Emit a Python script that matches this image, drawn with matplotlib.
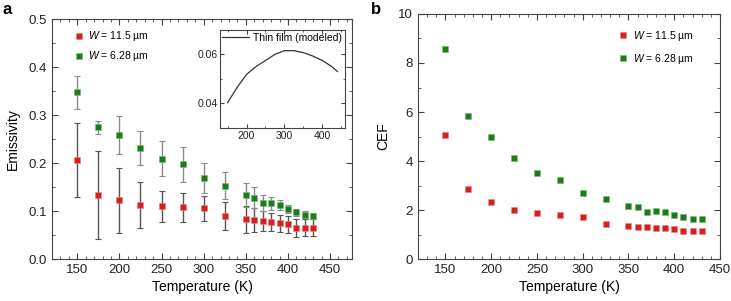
import numpy as np
import matplotlib
matplotlib.use('Agg')
import matplotlib.pyplot as plt
from matplotlib.ticker import MultipleLocator

plt.rcParams['font.family'] = ['Liberation Sans', 'DejaVu Sans']
plt.rcParams['mathtext.fontset'] = 'custom'
plt.rcParams['mathtext.rm'] = 'Liberation Sans'
plt.rcParams['mathtext.it'] = 'Liberation Sans:italic'

# ── data ────────────────────────────────────────────────────────────────────
temps = [150, 175, 200, 225, 250, 275, 300, 325, 350, 360, 370, 380, 390, 400, 410, 420, 430]

emis_red = [0.206, 0.134, 0.122, 0.113, 0.110, 0.108, 0.106, 0.090, 0.083, 0.081,
            0.079, 0.077, 0.074, 0.072, 0.065, 0.065, 0.065]
err_red = [0.077, 0.092, 0.067, 0.048, 0.032, 0.030, 0.026, 0.029, 0.028, 0.025,
           0.020, 0.018, 0.018, 0.017, 0.019, 0.018, 0.018]
emis_green = [0.347, 0.274, 0.258, 0.231, 0.209, 0.197, 0.168, 0.153, 0.133, 0.128,
              0.116, 0.116, 0.112, 0.104, 0.097, 0.092, 0.090]
err_green = [0.034, 0.014, 0.039, 0.035, 0.037, 0.037, 0.031, 0.029, 0.025, 0.021,
             0.017, 0.013, 0.010, 0.009, 0.007, 0.007, 0.006]

cef_red = [5.07, 2.86, 2.33, 2.01, 1.88, 1.78, 1.73, 1.44, 1.35, 1.32,
           1.31, 1.28, 1.25, 1.24, 1.14, 1.16, 1.16]
cef_green = [8.58, 5.84, 4.97, 4.12, 3.52, 3.22, 2.71, 2.45, 2.18, 2.11,
             1.93, 1.94, 1.90, 1.80, 1.70, 1.65, 1.62]

film_temps = [150, 175, 200, 225, 250, 275, 300, 325, 350, 375, 400, 425, 440]
film_emis = [0.0403, 0.0465, 0.0518, 0.0550, 0.0575, 0.0600, 0.0615, 0.0615,
             0.0607, 0.0593, 0.0575, 0.0550, 0.0530]

label_red = r'$W$ = 11.5 µm'
label_green = r'$W$ = 6.28 µm'

RED = '#d81e1e'
GREEN = '#1d7a1d'
FRAME = '#444444'


def style_axes(ax, xmajor, xminor, ymajor, yminor, fs):
    ax.xaxis.set_major_locator(MultipleLocator(xmajor))
    ax.xaxis.set_minor_locator(MultipleLocator(xminor))
    ax.yaxis.set_major_locator(MultipleLocator(ymajor))
    ax.yaxis.set_minor_locator(MultipleLocator(yminor))
    ax.tick_params(which='both', direction='in', top=True, right=True,
                   colors=FRAME, labelcolor='#222222', labelsize=fs)
    ax.tick_params(which='major', length=4, width=0.8)
    ax.tick_params(which='minor', length=2, width=0.6)
    for sp in ax.spines.values():
        sp.set_color(FRAME)
        sp.set_linewidth(0.8)


fig = plt.figure(figsize=(7.31, 3.01), dpi=100)

# ── panel a ─────────────────────────────────────────────────────────────────
ax1 = fig.add_axes([0.0711, 0.1395, 0.4104, 0.7973])
ax1.errorbar(temps, emis_red, yerr=err_red, fmt='none', ecolor='#555555',
             elinewidth=1.0, capsize=2.5, capthick=0.8, zorder=2)
ax1.errorbar(temps, emis_green, yerr=err_green, fmt='none', ecolor='#8a8a8a',
             elinewidth=1.0, capsize=2.5, capthick=0.8, zorder=2)
ax1.plot(temps, emis_red, 's', color=RED, ms=4.8, mec='#f08080', mew=0.4,
         label=label_red, zorder=3)
ax1.plot(temps, emis_green, 's', color=GREEN, ms=4.8, mec='#6fbf6f', mew=0.4,
         label=label_green, zorder=3)
ax1.set_xlim(120, 476)
ax1.set_ylim(0, 0.5)
style_axes(ax1, 50, 10, 0.1, 0.05, 9.5)
ax1.set_xlabel('Temperature (K)', fontsize=10, labelpad=3)
ax1.set_ylabel('Emissivity', fontsize=10, labelpad=6)
ax1.legend(loc='upper left', frameon=False, fontsize=7.5, handlelength=0.8,
           handletextpad=0.5, borderaxespad=0.6, labelspacing=0.55,
           bbox_to_anchor=(0.04, 1.0))

# inset
axi = fig.add_axes([0.301, 0.575, 0.171, 0.326])
axi.plot(film_temps, film_emis, color='#333333', lw=0.9, label='Thin film (modeled)')
axi.set_xlim(130, 460)
axi.set_ylim(0.03, 0.07)
style_axes(axi, 100, 50, 0.02, 0.01, 7.5)
axi.tick_params(which='major', length=3, pad=2)
axi.tick_params(which='minor', length=1.5)
axi.legend(loc='upper right', frameon=False, fontsize=7.5, handlelength=2.6,
           handletextpad=0.4, borderaxespad=0.1, borderpad=0.2)

# ── panel b ─────────────────────────────────────────────────────────────────
ax2 = fig.add_axes([0.5718, 0.1395, 0.4131, 0.814])
ax2.plot(temps, cef_red, 's', color=RED, ms=4.8, mec='#f08080', mew=0.4,
         label=label_red, zorder=3)
ax2.plot(temps, cef_green, 's', color=GREEN, ms=4.8, mec='#6fbf6f', mew=0.4,
         label=label_green, zorder=3)
ax2.set_xlim(120, 450)
ax2.set_ylim(0, 10)
style_axes(ax2, 50, 10, 2, 1, 9.5)
ax2.set_xlabel('Temperature (K)', fontsize=10, labelpad=3)
ax2.set_ylabel('CEF', fontsize=10, labelpad=6)
ax2.legend(loc='upper right', frameon=False, fontsize=7.5, handlelength=0.8,
           handletextpad=0.5, borderaxespad=1.0, labelspacing=0.9,
           bbox_to_anchor=(0.96, 1.0))

fig.text(0.004, 0.995, 'a', fontsize=12, fontweight='bold', va='top', ha='left')
fig.text(0.508, 0.995, 'b', fontsize=12, fontweight='bold', va='top', ha='left')

fig.savefig('out.png', dpi=100)
